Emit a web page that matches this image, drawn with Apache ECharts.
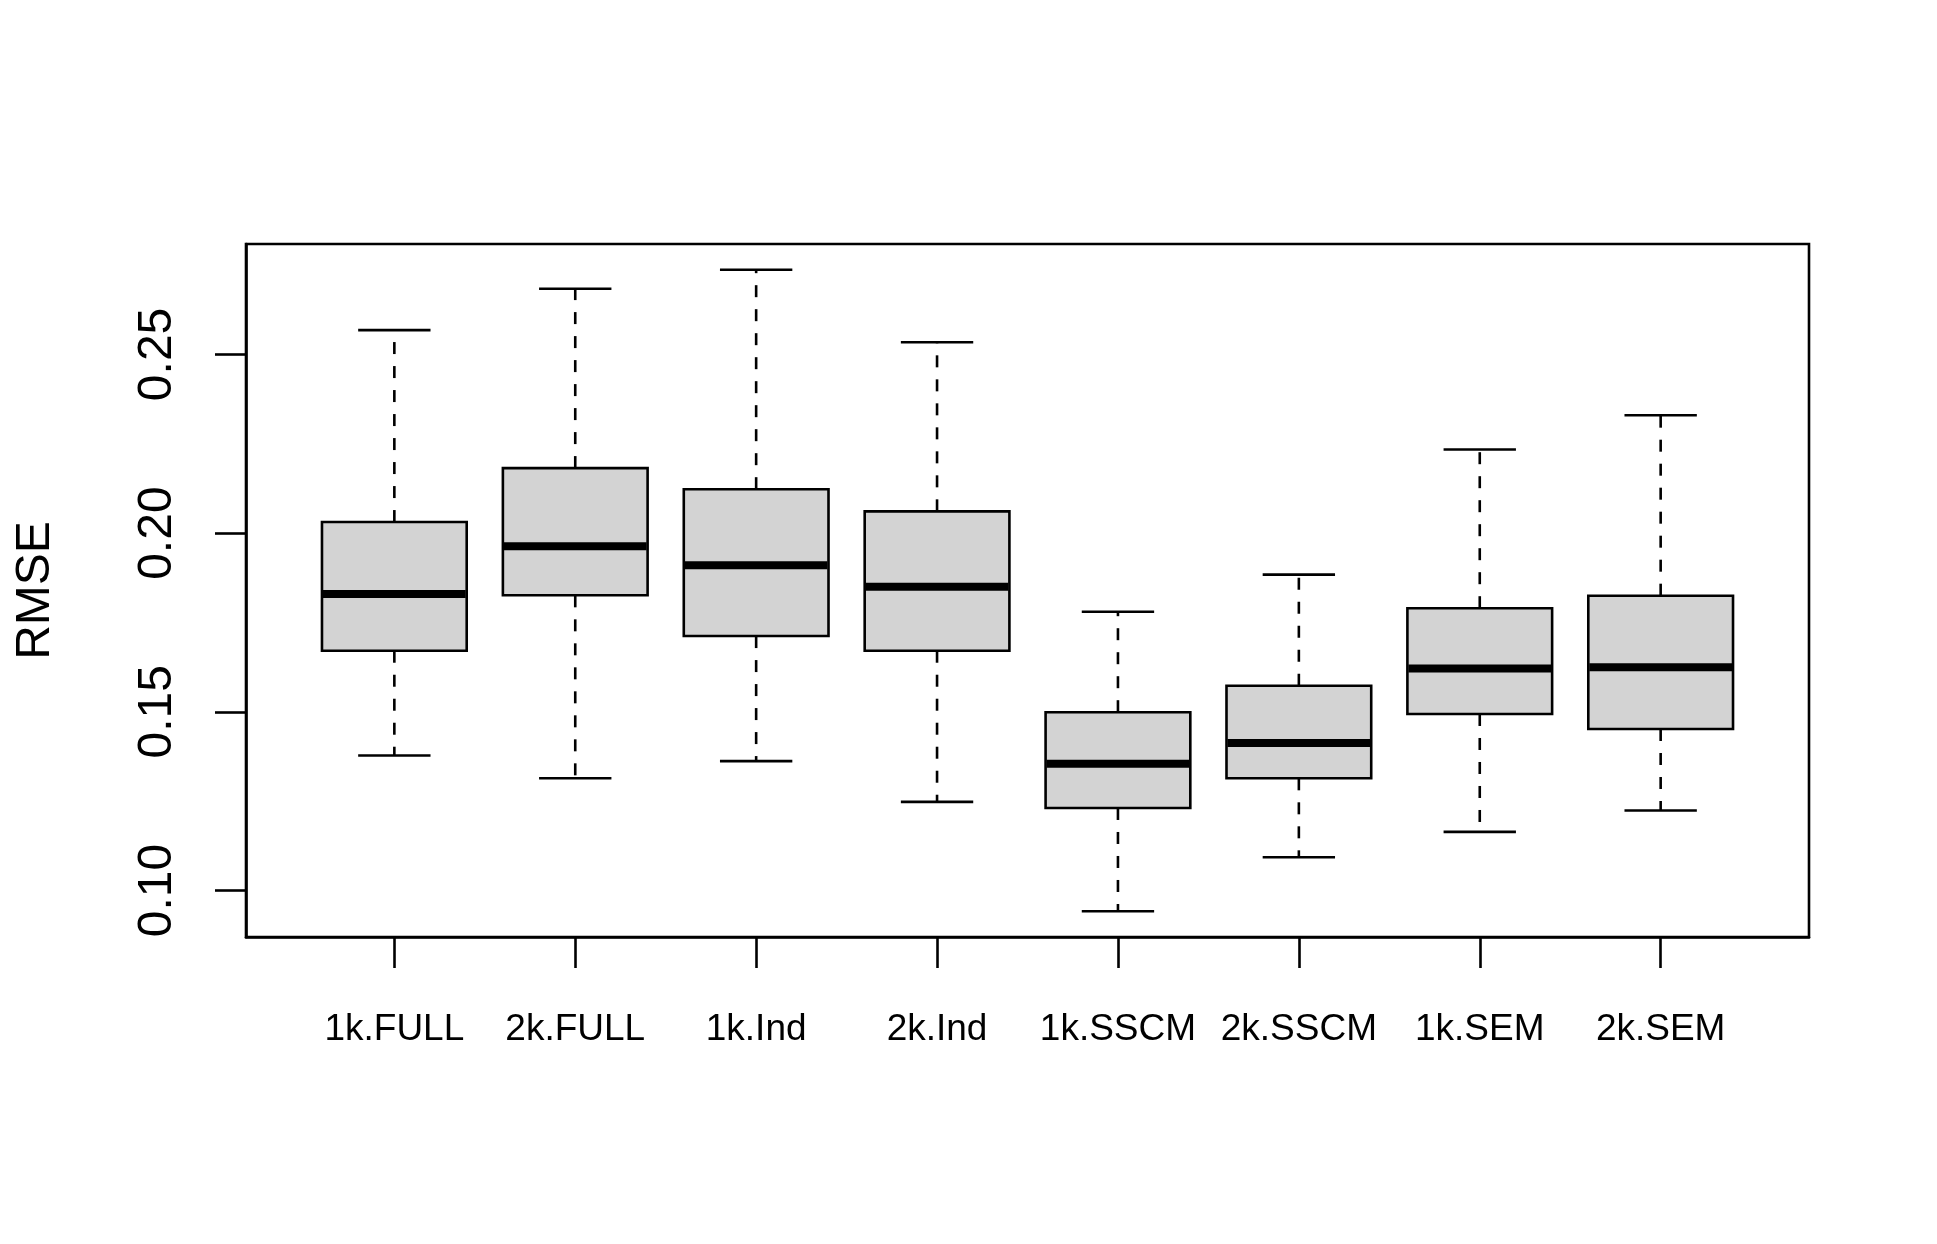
<!DOCTYPE html>
<html>
<head>
<meta charset="utf-8">
<script src="https://cdn.jsdelivr.net/npm/echarts@6/dist/echarts.min.js"></script>
<style>
html,body{margin:0;padding:0;background:#fff;}
#main{width:1937px;height:1244px;}
</style>
</head>
<body>
<div id="main"></div>
<script>
// ---- data ----
const categories = ['1k.FULL','2k.FULL','1k.Ind','2k.Ind','1k.SSCM','2k.SSCM','1k.SEM','2k.SEM'];
const lowerWhisker = [0.1378, 0.1314, 0.1362, 0.1248, 0.0942, 0.1093, 0.1164, 0.1224];
const q1           = [0.1671, 0.1826, 0.1712, 0.1671, 0.1231, 0.1314, 0.1494, 0.1452];
const median       = [0.1830, 0.1963, 0.1910, 0.1850, 0.1355, 0.1413, 0.1621, 0.1625];
const q3           = [0.2031, 0.2182, 0.2123, 0.2061, 0.1499, 0.1573, 0.1790, 0.1825];
const upperWhisker = [0.2568, 0.2684, 0.2737, 0.2534, 0.1780, 0.1884, 0.2234, 0.2330];
const yTicks = [0.10, 0.15, 0.20, 0.25];
const yLabel = 'RMSE';

const FONT = '"Liberation Sans", Arial, Helvetica, sans-serif';
const LW = 2.6;

const positions = categories.map((c, i) => i + 1);
const boxData = categories.map((c, i) => [positions[i], lowerWhisker[i], q1[i], median[i], q3[i], upperWhisker[i]]);

function renderBox(params, api) {
  const x = api.value(0);
  const lo = api.value(1), a = api.value(2), m = api.value(3), b = api.value(4), hi = api.value(5);
  const halfBox = 0.4, halfCap = 0.2;
  const pTL = api.coord([x - halfBox, b]);
  const pBR = api.coord([x + halfBox, a]);
  const pMedL = api.coord([x - halfBox, m]);
  const pMedR = api.coord([x + halfBox, m]);
  const pQ3 = api.coord([x, b]);
  const pHi = api.coord([x, hi]);
  const pQ1 = api.coord([x, a]);
  const pLo = api.coord([x, lo]);
  const capHiL = api.coord([x - halfCap, hi]), capHiR = api.coord([x + halfCap, hi]);
  const capLoL = api.coord([x - halfCap, lo]), capLoR = api.coord([x + halfCap, lo]);
  const dashStyle = { stroke: '#000', lineWidth: LW, lineDash: [12, 12] };
  const solid = { stroke: '#000', lineWidth: LW };
  return {
    type: 'group',
    children: [
      { type: 'line', shape: { x1: pQ3[0], y1: pQ3[1], x2: pHi[0], y2: pHi[1] }, style: dashStyle },
      { type: 'line', shape: { x1: pQ1[0], y1: pQ1[1], x2: pLo[0], y2: pLo[1] }, style: dashStyle },
      { type: 'line', shape: { x1: capHiL[0], y1: capHiL[1], x2: capHiR[0], y2: capHiR[1] }, style: solid },
      { type: 'line', shape: { x1: capLoL[0], y1: capLoL[1], x2: capLoR[0], y2: capLoR[1] }, style: solid },
      { type: 'rect', shape: { x: pTL[0], y: pTL[1], width: pBR[0] - pTL[0], height: pBR[1] - pTL[1] },
        style: { fill: '#D3D3D3', stroke: '#000', lineWidth: LW } },
      { type: 'line', shape: { x1: pMedL[0] + 1, y1: pMedL[1], x2: pMedR[0] - 1, y2: pMedR[1] },
        style: { stroke: '#000', lineWidth: 8 } }
    ]
  };
}

const chart = echarts.init(document.getElementById('main'), null, { renderer: 'canvas' });
chart.setOption({
  backgroundColor: '#fff',
  animation: false,
  grid: {
    left: 246, right: 128, top: 244, bottom: 307,
    show: true, borderColor: '#000', borderWidth: LW, backgroundColor: 'transparent'
  },
  xAxis: {
    type: 'value',
    min: 0.18, max: 8.82,
    splitLine: { show: false },
    axisLine: { show: true, lineStyle: { color: '#000', width: LW } },
    axisTick: { show: true, customValues: positions, length: 31, inside: false, lineStyle: { color: '#000', width: LW } },
    axisLabel: {
      show: true, customValues: positions, margin: 74,
      formatter: v => categories[Math.round(v) - 1] || '',
      color: '#000', fontFamily: FONT, fontSize: 37
    }
  },
  yAxis: {
    type: 'value',
    min: 0.087, max: 0.2809,
    name: yLabel, nameLocation: 'middle', nameRotate: 90, nameGap: 186,
    nameTextStyle: { color: '#000', fontFamily: FONT, fontSize: 48 },
    splitLine: { show: false },
    axisLine: { show: true, lineStyle: { color: '#000', width: LW } },
    axisTick: { show: true, customValues: yTicks, length: 31, lineStyle: { color: '#000', width: LW } },
    axisLabel: {
      show: true, customValues: yTicks, rotate: 90, margin: 64,
      formatter: v => Number(v).toFixed(2),
      color: '#000', fontFamily: FONT, fontSize: 48
    }
  },
  series: [{
    type: 'custom',
    renderItem: renderBox,
    encode: { x: 0, y: [1, 2, 3, 4, 5] },
    data: boxData,
    clip: false
  }]
});
</script>
</body>
</html>
